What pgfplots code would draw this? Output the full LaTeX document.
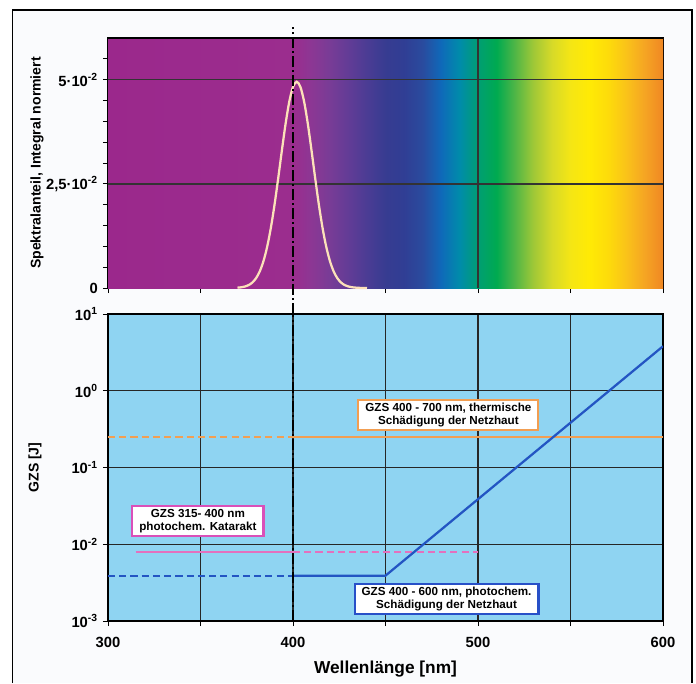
\documentclass[border=0pt]{standalone}
\usepackage{pgfplots}
\pgfplotsset{compat=1.18}
\usepackage{pgfplotstable}
\usepackage{fontspec}
\setmainfont{Liberation Sans}

\definecolor{gzsblue}{RGB}{143,212,242}
\definecolor{peak}{RGB}{252,225,185}
\definecolor{lorange}{RGB}{242,158,82}
\definecolor{lpink}{RGB}{228,112,190}
\definecolor{lblue}{RGB}{35,85,195}
\definecolor{bpink}{RGB}{218,80,185}
\definecolor{bblue}{RGB}{40,80,200}
\definecolor{bgframe}{RGB}{250,251,253}

% spectrum colours, 300..600 nm
\definecolor{s300}{RGB}{155,40,140}
\definecolor{s400}{RGB}{155,45,142}
\definecolor{s410}{RGB}{140,55,148}
\definecolor{s420}{RGB}{120,60,150}
\definecolor{s430}{RGB}{98,60,150}
\definecolor{s440}{RGB}{75,60,148}
\definecolor{s450}{RGB}{55,60,145}
\definecolor{s460}{RGB}{48,62,148}
\definecolor{s470}{RGB}{42,75,158}
\definecolor{s480}{RGB}{15,105,185}
\definecolor{s490}{RGB}{0,140,170}
\definecolor{s500}{RGB}{0,158,115}
\definecolor{s510}{RGB}{0,170,80}
\definecolor{s520}{RGB}{80,182,70}
\definecolor{s530}{RGB}{160,200,55}
\definecolor{s540}{RGB}{215,218,40}
\definecolor{s550}{RGB}{245,230,20}
\definecolor{s560}{RGB}{255,234,5}
\definecolor{s570}{RGB}{253,220,10}
\definecolor{s580}{RGB}{250,195,25}
\definecolor{s590}{RGB}{245,165,35}
\definecolor{s600}{RGB}{240,135,35}
% 25bp <-> 300 nm, 75bp <-> 600 nm
\pgfdeclarehorizontalshading{spectrum}{100bp}{
  color(0bp)=(s300); color(25bp)=(s300); color(41.667bp)=(s400);
  color(43.333bp)=(s410); color(45bp)=(s420); color(46.667bp)=(s430);
  color(48.333bp)=(s440); color(50bp)=(s450); color(51.667bp)=(s460);
  color(53.333bp)=(s470); color(55bp)=(s480); color(56.667bp)=(s490);
  color(58.333bp)=(s500); color(60bp)=(s510); color(61.667bp)=(s520);
  color(63.333bp)=(s530); color(65bp)=(s540); color(66.667bp)=(s550);
  color(68.333bp)=(s560); color(70bp)=(s570); color(71.667bp)=(s580);
  color(73.333bp)=(s590); color(75bp)=(s600); color(100bp)=(s600)}

\pgfplotstableread{
x y
370 0.00008
372 0.00017
374 0.00035
376 0.00069
378 0.00130
380 0.00233
382 0.00396
384 0.00640
386 0.00983
388 0.01436
390 0.01994
392 0.02633
394 0.03305
396 0.03944
398 0.04474
400 0.04827
402 0.04950
404 0.04827
406 0.04474
408 0.03944
410 0.03305
412 0.02633
414 0.01994
416 0.01436
418 0.00983
420 0.00640
422 0.00396
424 0.00233
426 0.00130
428 0.00069
430 0.00035
432 0.00017
434 0.00008
436 0.00003
440 0
}\peaktable

\pgfplotsset{
  gzs/.style={
    scale only axis, width=13.875cm, anchor=south west,
    xmin=300, xmax=600,
    tick pos=left, tick align=outside,
    major tick length=0.13cm, minor tick length=0.13cm,
    every tick/.style={black, line width=0.6pt},
    axis line style={black, line width=0.8pt},
    grid style={black!85, line width=1pt},
    tick label style={font=\bfseries\fontsize{10.5}{12}\selectfont},
  },
  dashdot/.style={black, line width=2pt, dash pattern=on 8pt off 2pt on 1.5pt off 2pt},
  gridline/.style={black!80, line width=1pt, forget plot},
}

\begin{document}
\begin{tikzpicture}
\useasboundingbox (0,0) rectangle (17.4,17.075);
\fill[white] (0,0) rectangle (17.4,17.075);
\fill[bgframe] (0.32,0) rectangle (17.3,16.825);
\draw[line width=0.9pt] (0.32,0) -- (0.32,16.825) -- (17.3,16.825) -- (17.3,0);

% upper panel: spectrum
\begin{axis}[gzs,
  at={(2.7cm,9.875cm)}, height=6.25cm,
  ymin=0, ymax=0.06,
  clip=false, scaled y ticks=false,
  xtick={300,350,...,600}, xticklabels={},
  ytick={0,0.025,0.05},
  yticklabels={0,{2,5·10\textsuperscript{-2}},{5·10\textsuperscript{-2}}},
  minor ytick={0.005,0.01,0.015,0.02,0.03,0.035,0.04,0.045,0.055},
  ylabel={Spektralanteil, Integral normiert},
  every axis y label/.style={at={(axis description cs:-0.128,0.5)}, rotate=90, anchor=center,
    font=\bfseries\fontsize{10}{12}\selectfont},
]
\addplot[draw=none, shade, shading=spectrum] coordinates {(300,0.06) (600,0.06)} \closedcycle;
\addplot[gridline] coordinates {(300,0.025) (600,0.025)};
\addplot[gridline] coordinates {(300,0.05) (600,0.05)};
\addplot[gridline] coordinates {(500,0) (500,0.06)};
\addplot[black, line width=1.6pt, forget plot] coordinates {(300,0.06) (600,0.06)};
\addplot[peak, line width=1.6pt, smooth] table[x=x, y=y] {\peaktable};
\addplot[dashdot] coordinates {(400,-0.0062) (400,0.0626)};
\end{axis}

% lower panel: limits
\begin{axis}[gzs,
  at={(2.7cm,1.55cm)}, height=7.675cm,
  ymode=log, ymin=1e-3, ymax=10,
  axis background/.style={fill=gzsblue},
  xtick={300,400,500,600}, xticklabels={300,400,500,600},
  xticklabel style={yshift=-0.15cm},
  minor xtick={350,450,550},
  xmajorgrids, xminorgrids, ymajorgrids, yminorticks=false,
  ytick={1e-3,1e-2,1e-1,1,10},
  yticklabels={10\textsuperscript{-3},10\textsuperscript{-2},10\textsuperscript{-1},10\textsuperscript{0},10\textsuperscript{1}},
  xlabel={Wellenlänge [nm]}, ylabel={GZS [J]},
  every axis x label/.style={at={(axis description cs:0.5,-0.155)}, anchor=center,
    font=\bfseries\fontsize{12.3}{14}\selectfont},
  every axis y label/.style={at={(axis description cs:-0.1315,0.5)}, rotate=90, anchor=center,
    font=\bfseries\fontsize{10}{12}\selectfont},
]
% thermal limit 400-700 nm
\addplot[lorange, line width=1.4pt, dash pattern=on 5pt off 3pt] coordinates {(300,0.252) (400,0.252)};
\addplot[lorange, line width=1.4pt] coordinates {(400,0.252) (600,0.252)};
% cataract limit 315-400 nm
\addplot[lpink, line width=1.4pt] coordinates {(315,0.0079) (400,0.0079)};
\addplot[lpink, line width=1.2pt, dash pattern=on 5pt off 3pt] coordinates {(400,0.0079) (500,0.0079)};
% photochemical retina limit 400-600 nm
\addplot[lblue, line width=1.6pt, dash pattern=on 5pt off 3pt] coordinates {(300,0.0039) (400,0.0039)};
\addplot[lblue, line width=1.6pt] coordinates {(400,0.0039) (450,0.0039) (600,3.8)};
\addplot[dashdot] coordinates {(400,1e-3) (400,10)};

\node[draw=lorange, fill=white, line width=1.5pt, align=center, inner xsep=5pt, inner ysep=2pt,
  font=\bfseries\fontsize{8.3}{9.4}\selectfont] at (axis cs:484,0.48)
  {GZS 400 - 700 nm, thermische\\Schädigung der Netzhaut};
\node[draw=bpink, fill=white, line width=1.5pt, align=center, inner xsep=5pt, inner ysep=2pt,
  font=\bfseries\fontsize{8.3}{9.4}\selectfont] at (axis cs:348.6,0.0201)
  {GZS 315- 400 nm\\photochem. Katarakt};
\node[draw=bblue, fill=white, line width=1.5pt, align=center, inner xsep=5pt, inner ysep=2pt,
  font=\bfseries\fontsize{8.3}{9.4}\selectfont] at (axis cs:483,0.00194)
  {GZS 400 - 600 nm, photochem.\\Schädigung der Netzhaut};
\end{axis}
\end{tikzpicture}
\end{document}
